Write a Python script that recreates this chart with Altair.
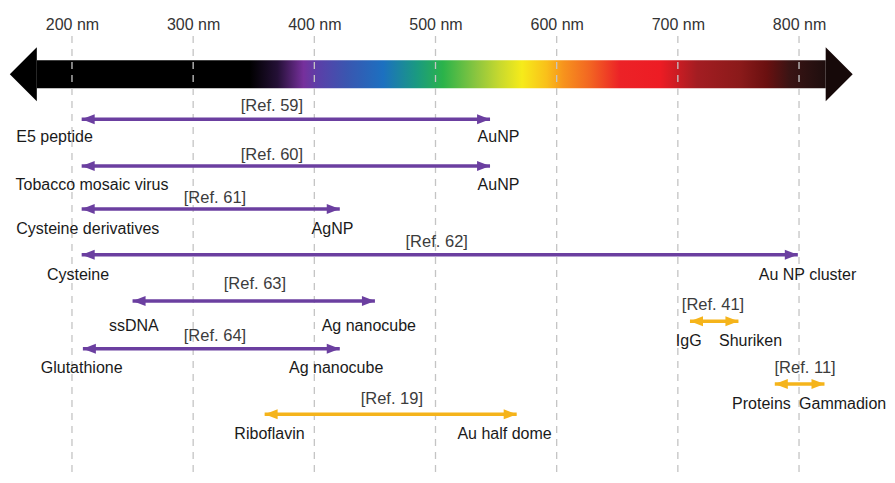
import altair as alt
import pandas as pd

# ---------------- data ----------------
tick_nm = [200, 300, 400, 500, 600, 700, 800]

refs = ["[Ref. 59]", "[Ref. 60]", "[Ref. 61]", "[Ref. 62]", "[Ref. 63]",
        "[Ref. 64]", "[Ref. 19]", "[Ref. 41]", "[Ref. 11]"]
kind = ["purple", "purple", "purple", "purple", "purple", "purple",
        "gold", "gold", "gold"]
start_nm = [208, 208, 208, 208, 250, 209, 359, 710, 780]
end_nm = [545, 545, 421, 799, 450, 421, 567, 750, 821]
arrow_row = [0.98, 2.00, 2.94, 3.94, 4.95, 5.99, 7.42, 5.39, 6.76]

ref_x = [365, 365, 318, 501, 351, 318, 464, 729, 805]
ref_row = [0.70, 1.77, 2.71, 3.65, 4.58, 5.71, 7.08, 5.03, 6.40]

left_names = ["E5 peptide", "Tobacco mosaic virus", "Cysteine derivatives",
              "Cysteine", "ssDNA", "Glutathione", "Riboflavin", "IgG", "Proteins"]
left_x = [185.6, 216.5, 213, 205, 251, 208, 363, 709, 769]
right_names = ["AuNP", "AuNP", "AgNP", "Au NP cluster", "Ag nanocube",
               "Ag nanocube", "Au half dome", "Shuriken", "Gammadion"]
right_x = [552, 552, 415, 807, 445, 418, 557, 760, 836]
name_row = [1.38, 2.41, 3.37, 4.39, 5.50, 6.40, 7.85, 5.82, 7.19]

spectrum_start = [171]
spectrum_end = [822]
spectrum_row = [0]

# ---------------- tables ----------------
arrows = pd.DataFrame({
    "ref": refs, "kind": kind, "start": start_nm, "end": end_nm,
    "row": arrow_row, "ref_x": ref_x, "ref_row": ref_row,
    "left": left_names, "left_x": left_x,
    "right": right_names, "right_x": right_x, "name_row": name_row,
})
spec = pd.DataFrame({"start": spectrum_start, "end": spectrum_end,
                     "row": spectrum_row})
grid = pd.DataFrame({"nm": tick_nm})

FONT = "Liberation Sans"
xscale = alt.Scale(domain=[147.2, 872.6], nice=False, zero=False)
yscale = alt.Scale(domain=[-0.725, 8.635], reverse=True, nice=False, zero=False)
X_AXIS = alt.Axis(orient="top", values=tick_nm, labelExpr="datum.value + ' nm'",
                  grid=False, ticks=False, tickSize=0, domain=False, title=None,
                  labelFont=FONT, labelFontSize=16, labelColor="#333333",
                  labelPadding=4, labelFlush=False)
color = alt.Color("kind:N", scale=alt.Scale(domain=["purple", "gold"],
                                            range=["#6B3FA0", "#F5B41B"]),
                  legend=None)


def X(field):
    return alt.X(field, type="quantitative", scale=xscale, axis=X_AXIS)


def Y(field):
    return alt.Y(field, type="quantitative", scale=yscale, axis=None)


stops = [
    (0.0, "#000000"), (0.27, "#000000"), (0.305, "#241036"), (0.338, "#76309C"),
    (0.356, "#5B3FA8"), (0.393, "#3A56B0"), (0.439, "#1C70C0"), (0.482, "#1A9A80"),
    (0.515, "#2BB34A"), (0.558, "#8DC63F"), (0.587, "#C8D92E"), (0.615, "#F6EB1A"),
    (0.646, "#F9C01A"), (0.667, "#F7941D"), (0.701, "#F26522"), (0.739, "#EC2227"),
    (0.790, "#ED1C24"), (0.837, "#A31D22"), (0.891, "#8B1A1A"), (0.925, "#6A1010"),
    (0.954, "#3A1414"), (1.0, "#1E0E0E"),
]
gradient = alt.Gradient(
    gradient="linear",
    stops=[alt.GradientStop(color=c, offset=o) for o, c in stops],
    x1=0, x2=1, y1=0, y2=0,
)

body = alt.Chart(spec).mark_bar(size=28, fill=gradient, stroke=None).encode(
    x=X("start"), x2="end", y=Y("row"))
head_l = alt.Chart(spec).mark_point(
    shape="M0,-1 L-1,0 L0,1 Z", size=2916, filled=True, opacity=1,
    color="#000000", strokeWidth=0).encode(x=X("start"), y=Y("row"))
head_r = alt.Chart(spec).mark_point(
    shape="M0,-1 L1,0 L0,1 Z", size=2916, filled=True, opacity=1,
    color="#160909", strokeWidth=0).encode(x=X("end"), y=Y("row"))

gridlines = alt.Chart(grid).mark_rule(
    color="#c4c4c4", strokeWidth=1.3, strokeDash=[7, 6]).encode(x=X("nm"))

lines = alt.Chart(arrows).mark_rule(strokeWidth=3.5).encode(
    x=X("start"), x2="end", y=Y("row"), color=color)
tips_l = alt.Chart(arrows).mark_point(
    shape="M0,0 L2.6,-1 L2.6,1 Z", size=100, filled=True, opacity=1,
    strokeWidth=0).encode(x=X("start"), y=Y("row"), color=color)
tips_r = alt.Chart(arrows).mark_point(
    shape="M0,0 L-2.6,-1 L-2.6,1 Z", size=100, filled=True, opacity=1,
    strokeWidth=0).encode(x=X("end"), y=Y("row"), color=color)

ref_text = alt.Chart(arrows).mark_text(
    font=FONT, fontSize=16.5, color="#3c3c3c", baseline="middle", align="center"
).encode(x=X("ref_x"), y=Y("ref_row"), text="ref:N")
left_text = alt.Chart(arrows).mark_text(
    font=FONT, fontSize=16, color="#1a1a1a", baseline="middle", align="center"
).encode(x=X("left_x"), y=Y("name_row"), text="left:N")
right_text = alt.Chart(arrows).mark_text(
    font=FONT, fontSize=16, color="#1a1a1a", baseline="middle", align="center"
).encode(x=X("right_x"), y=Y("name_row"), text="right:N")

chart = alt.layer(
    body, head_l, head_r, gridlines, lines, tips_l, tips_r,
    ref_text, left_text, right_text,
).properties(
    width=879, height=439,
    autosize=alt.AutoSizeParams(type="none"),
    padding={"left": 0, "top": 28, "right": 0, "bottom": 0},
    background="white",
).configure_view(stroke=None)

chart.save("out.html", embed_options={"renderer": "svg", "actions": False})
